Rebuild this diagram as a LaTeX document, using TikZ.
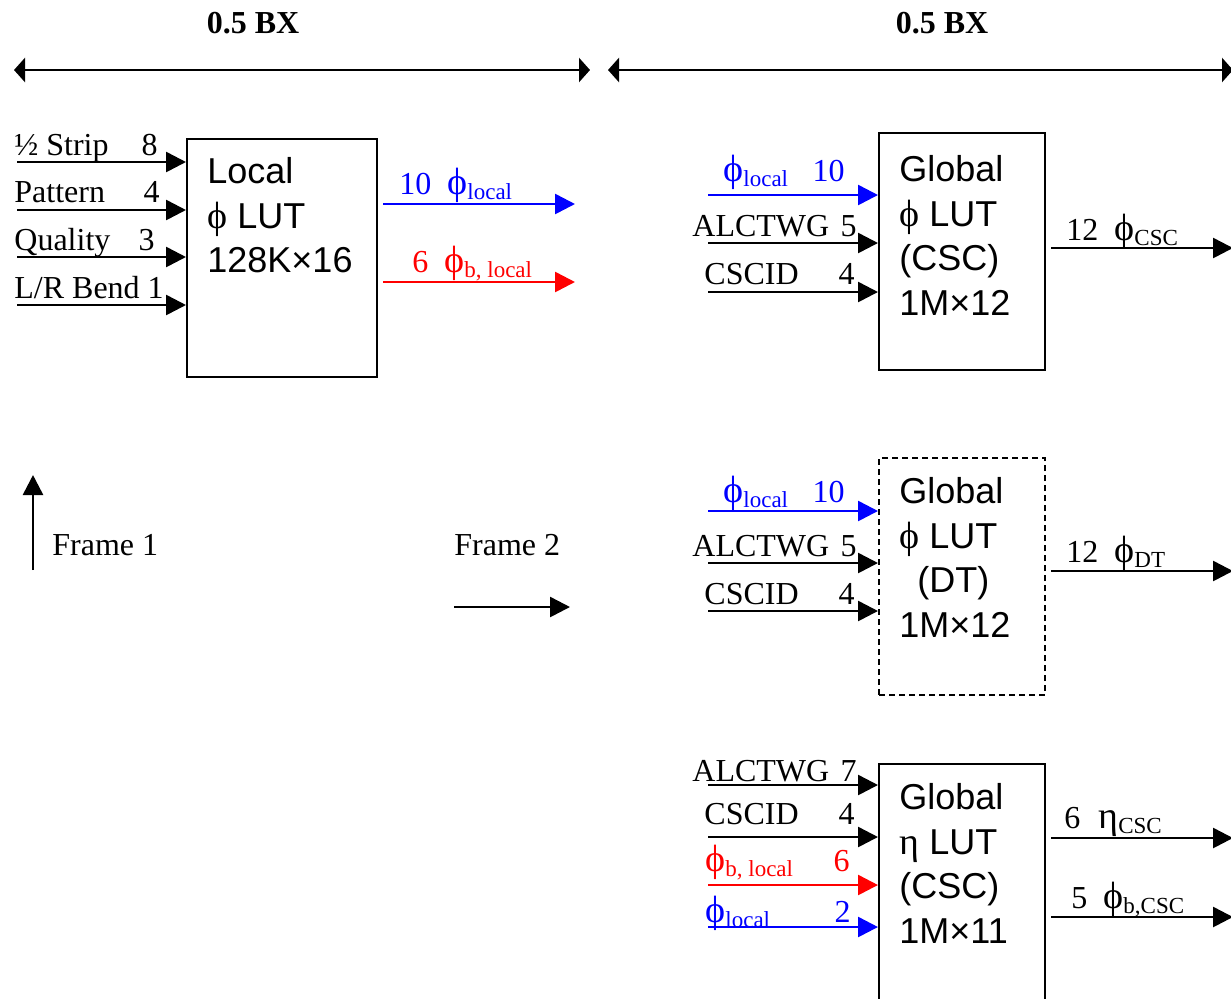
\documentclass[tikz,border=0pt]{standalone}
\usepackage{fontspec}
\setmainfont{Liberation Serif}
\newfontfamily\arialfont{Liberation Sans}
\usetikzlibrary{arrows.meta,positioning}
\newcommand{\sbs}[1]{\raisebox{-2.5pt}{\fontsize{11.5pt}{12pt}\selectfont #1}}
\newcommand{\ph}{{\rmfamily\fontsize{19pt}{19pt}\selectfont ϕ}}

\begin{document}
\begin{tikzpicture}[x=0.5pt, y=-0.5pt,
  lut/.style={draw, line width=1pt, anchor=north west, minimum width=83pt,
    minimum height=118.5pt, inner sep=0pt},
  luttxt/.style={anchor=north west, inner sep=0pt, align=left,
    font=\arialfont\fontsize{18pt}{22.3pt}\selectfont},
  lbl/.style={inner sep=0pt, font=\fontsize{16pt}{19pt}\selectfont},
  sig/.style={-{Triangle[length=10pt, width=10pt]}, line width=1.3pt},
  span/.style={{Triangle[length=5.5pt, width=12pt]}-{Triangle[length=5.5pt, width=12pt]}, line width=1.3pt},
]
  \useasboundingbox (0,0) rectangle (1231,998);

  \node[lbl, font=\bfseries\fontsize{16pt}{19pt}\selectfont, anchor=base] (bx1) at (253,33) {0.5 BX};
  \node[lbl, font=\bfseries\fontsize{16pt}{19pt}\selectfont, anchor=base] (bx2) at (942,33) {0.5 BX};
  \coordinate (s1a) at (14,70);  \coordinate (s1b) at (590,70);
  \coordinate (s2a) at (608,70); \coordinate (s2b) at (1233,70);
  \draw[span] (s1a) -- (s1b);
  \draw[span] (s2a) -- (s2b);

  \node[lut, minimum width=95pt, minimum height=119pt] (local) at (186,138) {};
  \node[luttxt] (localtxt) at (207,157) {Local\\ \ph\ LUT\\ 128K×16};

  \node[lut] (gcsc) at (878,132) {};
  \node[luttxt] (gcsctxt) at (899,155) {Global\\ \ph\ LUT\\ (CSC)\\ 1M×12};
  \node[lut, dashed, dash pattern=on 3pt off 2pt, below=43pt of gcsc] (gdt) {};
  \node[luttxt] (gdttxt) at (899,477) {Global\\ \ph\ LUT\\ \hspace{9pt}(DT)\\ 1M×12};
  \node[lut, minimum height=120pt, below=33.5pt of gdt] (geta) {};
  \node[luttxt] (getatxt) at (899,783) {Global\\ {\rmfamily\fontsize{19pt}{19pt}\selectfont η} LUT\\ (CSC)\\ 1M×11};

  \coordinate (a1) at (17,162); \coordinate (a2) at (17,210);
  \coordinate (a3) at (17,257); \coordinate (a4) at (17,305);
  \draw[sig] (a1) -- (a1 -| local.west);
  \draw[sig] (a2) -- (a2 -| local.west);
  \draw[sig] (a3) -- (a3 -| local.west);
  \draw[sig] (a4) -- (a4 -| local.west);
  \node[lbl, anchor=base west] (la1) at (14,155) {½ Strip};
  \node[lbl, anchor=base east] (na1) at (158,155) {8};
  \node[lbl, anchor=base west] (la2) at (14,202) {Pattern};
  \node[lbl, anchor=base east] (na2) at (160,202) {4};
  \node[lbl, anchor=base west] (la3) at (14,250) {Quality};
  \node[lbl, anchor=base east] (na3) at (155,250) {3};
  \node[lbl, anchor=base west] (la4) at (14,298) {L/R Bend 1};

  \coordinate (b1) at (575,204); \coordinate (b2) at (575,282);
  \draw[sig, blue, shorten <=2.5pt] (b1 -| local.east) -- (b1);
  \draw[sig, red, shorten <=2.5pt] (b2 -| local.east) -- (b2);
  \node[lbl, blue, anchor=base west] (lb1) at (399,194) {10\hspace{8pt}\ph\sbs{local}};
  \node[lbl, red, anchor=base west] (lb2) at (412,272) {6\hspace{8pt}\ph\sbs{b, local}};

  \coordinate (c1) at (708,195); \coordinate (c2) at (708,243); \coordinate (c3) at (708,292);
  \draw[sig, blue] (c1) -- (c1 -| gcsc.west);
  \draw[sig] (c2) -- (c2 -| gcsc.west);
  \draw[sig] (c3) -- (c3 -| gcsc.west);
  \node[lbl, blue, anchor=base west] (lc1) at (723,181) {\ph\sbs{local}};
  \node[lbl, blue, anchor=base east] (nc1) at (845,181) {10};
  \node[lbl, anchor=base west] (lc2) at (692,236) {ALCTWG};
  \node[lbl, anchor=base east] (nc2) at (857,236) {5};
  \node[lbl, anchor=base west] (lc3) at (704,284) {CSCID};
  \node[lbl, anchor=base east] (nc3) at (855,284) {4};
  \coordinate (oc) at (1233,248);
  \draw[sig, shorten <=2.5pt] (oc -| gcsc.east) -- (oc);
  \node[lbl, anchor=base west] (loc) at (1066,240) {12\hspace{8pt}\ph\sbs{CSC}};

  \coordinate (d1) at (708,511); \coordinate (d2) at (708,563); \coordinate (d3) at (708,611);
  \draw[sig, blue] (d1) -- (d1 -| gdt.west);
  \draw[sig] (d2) -- (d2 -| gdt.west);
  \draw[sig] (d3) -- (d3 -| gdt.west);
  \node[lbl, blue, anchor=base west] (ld1) at (723,502) {\ph\sbs{local}};
  \node[lbl, blue, anchor=base east] (nd1) at (845,502) {10};
  \node[lbl, anchor=base west] (ld2) at (692,556) {ALCTWG};
  \node[lbl, anchor=base east] (nd2) at (857,556) {5};
  \node[lbl, anchor=base west] (ld3) at (704,604) {CSCID};
  \node[lbl, anchor=base east] (nd3) at (855,604) {4};
  \coordinate (od) at (1233,571);
  \draw[sig, shorten <=2.5pt] (od -| gdt.east) -- (od);
  \node[lbl, anchor=base west] (lod) at (1066,562) {12\hspace{8pt}\ph\sbs{DT}};

  \coordinate (e1) at (708,785); \coordinate (e2) at (708,837);
  \coordinate (e3) at (708,885); \coordinate (e4) at (708,927);
  \draw[sig] (e1) -- (e1 -| geta.west);
  \draw[sig] (e2) -- (e2 -| geta.west);
  \draw[sig, red] (e3) -- (e3 -| geta.west);
  \draw[sig, blue] (e4) -- (e4 -| geta.west);
  \node[lbl, anchor=base west] (le1) at (692,781) {ALCTWG};
  \node[lbl, anchor=base east] (ne1) at (857,781) {7};
  \node[lbl, anchor=base west] (le2) at (704,824) {CSCID};
  \node[lbl, anchor=base east] (ne2) at (855,824) {4};
  \node[lbl, red, anchor=base west] (le3) at (705,871) {\ph\sbs{b, local}};
  \node[lbl, red, anchor=base east] (ne3) at (850,871) {6};
  \node[lbl, blue, anchor=base west] (le4) at (705,922) {\ph\sbs{local}};
  \node[lbl, blue, anchor=base east] (ne4) at (851,922) {2};
  \coordinate (oe1) at (1233,838); \coordinate (oe2) at (1233,917);
  \draw[sig, shorten <=2.5pt] (oe1 -| geta.east) -- (oe1);
  \draw[sig, shorten <=2.5pt] (oe2 -| geta.east) -- (oe2);
  \node[lbl, anchor=base west] (loe1) at (1064,828) {6\hspace{9pt}{\fontsize{19pt}{19pt}\selectfont η}\sbs{CSC}};
  \node[lbl, anchor=base west] (loe2) at (1071,908) {5\hspace{8pt}\ph\sbs{b,CSC}};

  \coordinate (f1a) at (33,570); \coordinate (f1b) at (33,475);
  \draw[sig] (f1a) -- (f1b);
  \node[lbl, anchor=base west] (fr1) at (52,555) {Frame 1};
  \coordinate (f2a) at (454,607); \coordinate (f2b) at (570,607);
  \draw[sig] (f2a) -- (f2b);
  \node[lbl, anchor=base west] (fr2) at (454,555) {Frame 2};
\end{tikzpicture}
\end{document}
